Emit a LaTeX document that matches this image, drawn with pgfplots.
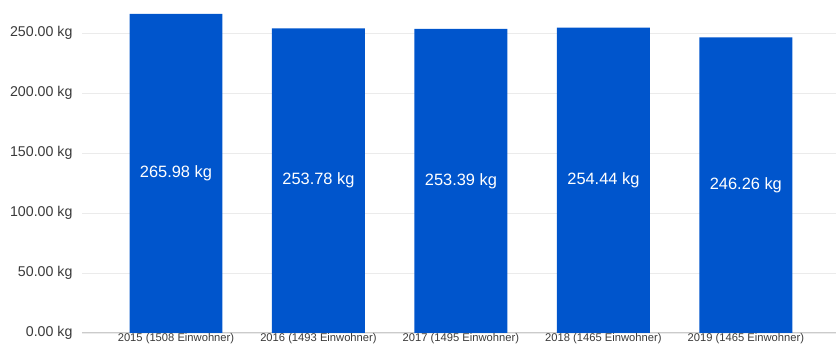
\documentclass[border=0pt]{standalone}
\usepackage{pgfplots}
\pgfplotsset{compat=1.18}
\usepackage{fontspec}
\setmainfont{Liberation Sans}
\definecolor{barblue}{HTML}{0055CC}
\definecolor{gridc}{HTML}{EBEBEB}
\definecolor{tickc}{HTML}{3A3A3A}
\begin{document}
\begin{tikzpicture}
\begin{axis}[
  scale only axis,
  width=754pt, height=333pt,
  xmin=-0.66, xmax=4.63,
  ymin=0, ymax=277.5,
  axis x line*=bottom,
  axis y line*=left,
  y axis line style={draw=none},
  x axis line style={draw=gridc!70!gray, line width=0.8pt},
  ytick={0,50,100,150,200,250},
  yticklabels={0.00 kg,50.00 kg,100.00 kg,150.00 kg,200.00 kg,250.00 kg},
  y tick label style={font=\fontsize{14.2}{16}\selectfont, text=tickc, xshift=-6pt},
  ymajorgrids,
  grid style={draw=gridc, line width=0.6pt},
  xtick={0,1,2,3,4},
  xticklabels={2015 (1508 Einwohner),2016 (1493 Einwohner),2017 (1495 Einwohner),2018 (1465 Einwohner),2019 (1465 Einwohner)},
  x tick label style={font=\fontsize{11.2}{12}\selectfont, text=tickc, yshift=3pt},
  major tick length=0pt,
  clip=false,
]
\addplot[ybar, bar width=93pt, fill=barblue, draw=none] coordinates {
  (0,265.98) (1,253.78) (2,253.39) (3,254.44) (4,246.26)
};
\node[text=white, font=\fontsize{16.4}{18}\selectfont] at (axis cs:0,132.99) {265.98 kg};
\node[text=white, font=\fontsize{16.4}{18}\selectfont] at (axis cs:1,126.89) {253.78 kg};
\node[text=white, font=\fontsize{16.4}{18}\selectfont] at (axis cs:2,126.70) {253.39 kg};
\node[text=white, font=\fontsize{16.4}{18}\selectfont] at (axis cs:3,127.22) {254.44 kg};
\node[text=white, font=\fontsize{16.4}{18}\selectfont] at (axis cs:4,123.13) {246.26 kg};
\end{axis}
\path ([xshift=-82pt]current axis.south west) rectangle ([xshift=-81pt,yshift=1pt]current axis.south west);
\end{tikzpicture}
\end{document}
